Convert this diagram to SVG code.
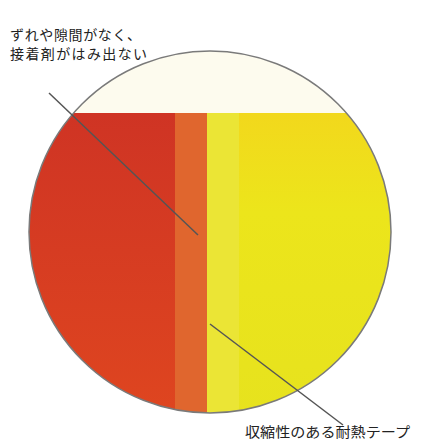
<svg xmlns="http://www.w3.org/2000/svg" width="424" height="442" viewBox="0 0 424 442">
<style>
.lbl{font-family:"Noto Sans CJK JP","Liberation Sans",sans-serif;font-size:14px;fill:#222}
.lead{stroke:#555;stroke-width:1.5;fill:none}
</style>
<defs>
<clipPath id="c"><circle cx="210" cy="232" r="181"/></clipPath>
<linearGradient id="red" x1="0" y1="0" x2="0" y2="1">
<stop offset="0" stop-color="#cf3424"/><stop offset="1" stop-color="#e0471f"/>
</linearGradient>
<linearGradient id="yel" x1="0" y1="0" x2="0" y2="1">
<stop offset="0" stop-color="#f2d81c"/><stop offset="0.3" stop-color="#ece51b"/><stop offset="1" stop-color="#e6e21e"/>
</linearGradient>
</defs>
<rect width="424" height="442" fill="#ffffff"/>
<g id="disc">
<g clip-path="url(#c)">
<rect x="0" y="0" width="424" height="442" fill="#fdfbee"/>
<rect x="0" y="113" width="175" height="330" fill="url(#red)"/>
<rect x="175" y="113" width="32" height="330" fill="#e0662e"/>
<rect x="207" y="113" width="32" height="330" fill="#ebe535"/>
<rect x="239" y="113" width="185" height="330" fill="url(#yel)"/>
</g>
<circle cx="210" cy="232" r="181" fill="none" stroke="#7a7a7a" stroke-width="1.5"/>
</g>
<g id="connectors">
<line class="lead" x1="49" y1="93" x2="198" y2="235"/>
<line class="lead" x1="210" y1="324" x2="343" y2="425"/>
</g>
<g id="label-top">
<text class="lbl" x="10" y="40" textLength="131" lengthAdjust="spacing">ずれや隙間がなく、</text>
<text class="lbl" x="10" y="59" textLength="137" lengthAdjust="spacing">接着剤がはみ出ない</text>
</g>
<g id="label-bottom">
<text class="lbl" x="245" y="437" textLength="165" lengthAdjust="spacingAndGlyphs">収縮性のある耐熱テープ</text>
</g>
</svg>
